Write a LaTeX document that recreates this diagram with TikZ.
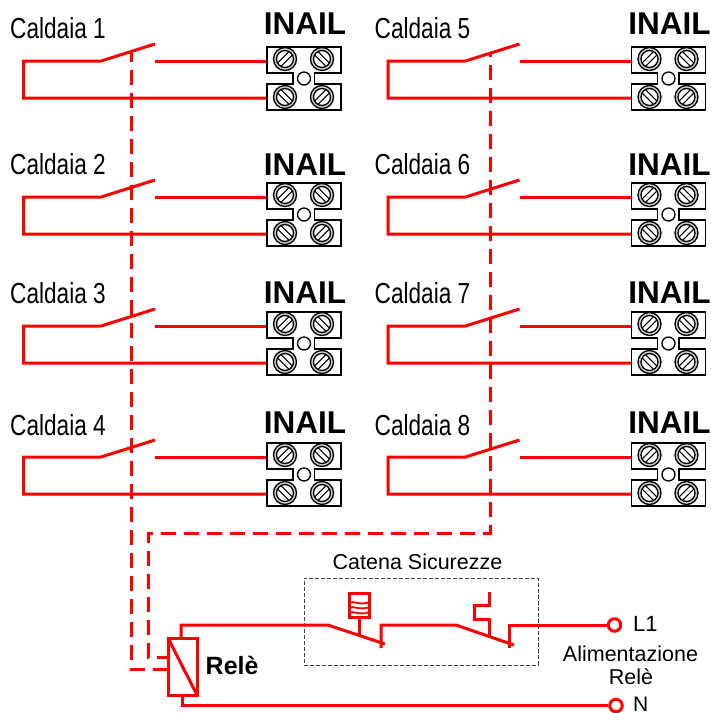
\documentclass[tikz,border=0pt]{standalone}
\usepackage{fontspec}
\usepackage{graphicx}
\setmainfont{Liberation Sans}
\definecolor{wire}{RGB}{255,0,0}
\tikzset{
  wireline/.style={draw=wire,line width=3pt,line join=miter},
  linkline/.style={draw=wire,line width=3pt,dash pattern=on 15pt off 8pt},
  framebox/.style={draw=black!75,line width=1pt,dash pattern=on 4pt off 2pt},
  termline/.style={draw=black,line width=1.3pt},
  screwring/.style={draw=black,line width=1.3pt},
  lbl/.style={inner sep=0pt,text=black},
  terminalpt/.style={circle,draw=wire,line width=3pt,fill=white,minimum size=12.5pt,inner sep=0pt},
}
\newcommand{\screw}[3]{% x y angle (relative scope)
  \draw[screwring,fill=black!20] (#1,#2) circle (11.5);
  \draw[screwring,fill=white] (#1,#2) circle (8.5);
  \begin{scope}[shift={(#1,#2)},rotate=#3]
    \draw[termline,line width=1.1pt] (-8,-2.4) -- (8,-2.4) (-8,2.4) -- (8,2.4);
  \end{scope}
}
\newcommand{\unit}[6]{% dx dy label name captionbase inailbase
  \begin{scope}[shift={(#1,#2)}]
    \node[lbl,anchor=base west] (lab#4) at (10,#5) {\scalebox{.78}[1]{\fontsize{29}{31}\selectfont #3}};
    \node[lbl,anchor=base] (inail#4) at (305,#6) {\fontsize{31.5}{33}\selectfont\bfseries INAIL};
    \coordinate (tl#4) at (267,61);
    \coordinate (bl#4) at (267,98);
    \coordinate (sw#4) at (101,61);
    \coordinate (sq#4) at (155,44);
    \coordinate (ct#4) at (155,61);
    \coordinate (ll#4) at (23.5,61);
    \coordinate (lb#4) at (23.5,98);
    \draw[wireline] (sq#4) -- (sw#4) -- (ll#4) -- (lb#4) -- (bl#4);
    \draw[wireline] (ct#4) -- (tl#4);
    \draw[termline,fill=white] (267,47) -- (341,47) -- (341,73) -- (314.5,73) -- (314.5,84) -- (341,84) -- (341,110) -- (267,110) -- (267,84) -- (293,84) -- (293,73) -- (267,73) -- cycle;
    \draw[screwring] (304,78.5) circle (6.5);
    \screw{285}{59}{45}
    \screw{322}{59}{-45}
    \screw{285}{97}{-45}
    \screw{322}{97}{45}
  \end{scope}
}
\begin{document}
\begin{tikzpicture}[x=1pt,y=-1pt]
\useasboundingbox (0,0) rectangle (711,713);
\unit{0}{0}{Caldaia 1}{a}{38}{34}
\unit{0}{136}{Caldaia 2}{b}{38}{39}
\unit{0}{265}{Caldaia 3}{c}{38}{38}
\unit{0}{396}{Caldaia 4}{d}{39}{37}
\unit{364.5}{0}{Caldaia 5}{e}{38}{34}
\unit{364.5}{136}{Caldaia 6}{f}{38}{39}
\unit{364.5}{265}{Caldaia 7}{g}{38}{38}
\unit{364.5}{396}{Caldaia 8}{h}{39}{37}
% relay
\node[draw=wire,line width=3pt,minimum width=29pt,minimum height=57pt,inner sep=0pt,outer sep=0pt,fill=white] (rele) at (182.5,666.5) {};
\draw[wireline] (rele.north west) -- (rele.south east);
\node[lbl,anchor=base west] (relelab) at (205.5,674) {\fontsize{25}{28}\selectfont\bfseries Relè};
% dashed links
\coordinate (la) at (131,53);
\coordinate (lb) at (490,53);
\coordinate (lc) at (490,533);
\coordinate (ld) at (148,533);
\coordinate (le) at (148,657);
\coordinate (lf) at (131,669);
\draw[linkline] (rele.west |- lf) -- (lf) -- (la);
\draw[linkline,dash phase=4pt] (rele.west |- le) -- (le) -- (ld) -- (lc) -- (lb);
% safety chain frame
\node[framebox,minimum width=234pt,minimum height=87pt,inner sep=0pt] (chain) at (421,621.5) {};
\node[lbl,anchor=base] (chainlab) at (417.5,569) {\fontsize{21.5}{23}\selectfont Catena Sicurezze};
% terminals
\node[terminalpt] (l1) at (614.5,625) {};
\node[terminalpt] (n) at (616,705.5) {};
\node[lbl,anchor=base west] (l1lab) at (633,631) {\fontsize{22}{24}\selectfont L1};
\node[lbl,anchor=base west] (nlab) at (633,711.5) {\fontsize{21}{22}\selectfont N};
\node[lbl,anchor=base] (alim) at (630.5,661) {\fontsize{21.5}{24}\selectfont Alimentazione};
\node[lbl,anchor=base] (alimb) at (631,684) {\fontsize{21.5}{24}\selectfont Relè};
% circuit
\coordinate (a1) at (181,638);
\coordinate (a2) at (181,625);
\coordinate (s1a) at (328,625);
\coordinate (s1b) at (385,644);
\coordinate (s1t) at (381,648);
\coordinate (s1u) at (381,625);
\coordinate (s2a) at (456,625);
\coordinate (s2b) at (514,645);
\coordinate (s2t) at (509,648);
\coordinate (s2u) at (509,625);
\draw[wireline] (a1) -- (a2) -- (s1a) -- (s1b);
\draw[wireline] (s1t) -- (s1u) -- (s2a) -- (s2b);
\draw[wireline] (s2t) -- (s2u) -- (l1);
\coordinate (a3) at (182,695);
\draw[wireline] (a3) -- (182,705.5) -- (n);
% thermal
\coordinate (t1) at (359,636);
\coordinate (t2) at (359,617);
\draw[wireline] (t1) -- (t2);
\draw[wireline,fill=white] (349,593) rectangle (369.5,617);
\draw[draw=wire,line width=1.8pt] (349,603) .. controls (354,600) and (359,606) .. (369.5,602) (349,608) .. controls (354,605) and (359,611) .. (369.5,607) (349,613) .. controls (354,610) and (359,616) .. (369.5,612);
% pressure
\draw[wireline] (489,636) -- (489,619) -- (474,619) -- (474,605) -- (489,605) -- (489,592);
\end{tikzpicture}
\end{document}
